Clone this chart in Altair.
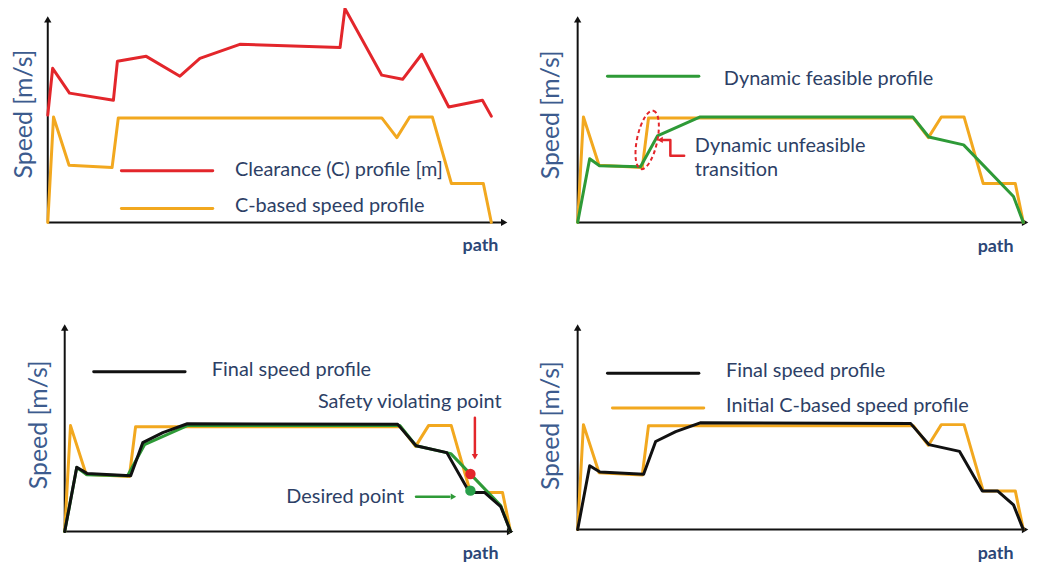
import altair as alt
import pandas as pd

# ---------------- data (path units: 0 = start, 100 = end of path; speed units 0..100) -------------
orange_x = [0, 1.3, 4.8, 14.5, 15.9, 75.3, 78.7, 81.6, 86.7, 91.0, 98.2, 100]
orange_y = [0, 51, 27.6, 26.5, 50.5, 50.5, 41, 51, 51, 18.8, 18.8, 0]

red_x = [0, 1.1, 4.9, 14.8, 15.7, 22.2, 29.8, 34.3, 43.3, 65.9, 67.0, 75.3, 80.0, 84.3, 90.4, 98.0, 100]
red_y = [51.9, 74.5, 62.5, 59.1, 77.9, 80.3, 70.7, 79.3, 86.1, 84.6, 103.4, 71.2, 69.2, 81.3, 55.8, 59.1, 51.4]

green_x = [0, 2.7, 4.9, 14.1, 17.9, 27.5, 75.2, 78.8, 86.6, 97.8, 100]
green_y = [0, 30.8, 27.4, 26.9, 41.8, 51, 51, 41.3, 37.5, 12.5, 0]

black_x = [0, 2.7, 5.0, 14.8, 17.5, 22.0, 27.5, 74.7, 78.8, 85.7, 90.8, 94.2, 97.8, 100]
black_y = [0, 31, 28, 26.9, 42.8, 47.6, 51.9, 51.6, 41.3, 38, 18.8, 18.8, 12, 0]

# annotation points (panel 3)
violating_point = (91.0, 27.7)
desired_point = (91.0, 19.7)

# unfeasible transition marker (panel 2)
ellipse_center = (15.6, 39.9)
bracket_x = [23.9, 20.8, 20.8, 18.8]
bracket_y = [32.2, 32.2, 39.9, 39.9]

ORANGE = "#F2A81F"
RED = "#E3262B"
GREEN = "#2E9A37"
BLACK = "#111111"
TXT = "#2D3F66"
AXT = "#3C5B8E"
FONT = "Lato"
LBL = 20


def sx(dom):
    return alt.X("x:Q", scale=alt.Scale(domain=dom, nice=False, zero=False), axis=None)


def sy():
    return alt.Y("y:Q", scale=alt.Scale(domain=[0, 100], nice=False, zero=False), axis=None)


def line(dom, xv, yv, color, sw=3.0):
    df = pd.DataFrame({"x": xv, "y": yv, "i": list(range(len(xv)))})
    return alt.Chart(df).mark_line(color=color, strokeWidth=sw, strokeJoin="round",
                                   strokeCap="round").encode(x=sx(dom), y=sy(), order="i:Q")


def texts(dom, xv, yv, labels, align="left", size=LBL, color=TXT, weight="normal", angle=0):
    df = pd.DataFrame({"x": xv, "y": yv, "t": labels})
    return alt.Chart(df).mark_text(align=align, baseline="middle", fontSize=size, font=FONT,
                                   color=color, fontWeight=weight, angle=angle).encode(
        x=sx(dom), y=sy(), text="t:N")


def pts(dom, xv, yv, shape, size, color, angle=0, filled=True, dash=None, sw=2):
    df = pd.DataFrame({"x": xv, "y": yv})
    kw = dict(shape=shape, size=size, opacity=1, angle=angle, filled=filled, strokeWidth=sw)
    if filled:
        kw["fill"] = color
        kw["strokeWidth"] = 0
    else:
        kw["stroke"] = color
        kw["fill"] = "transparent"
    if dash:
        kw["strokeDash"] = dash
    return alt.Chart(df).mark_point(**kw).encode(x=sx(dom), y=sy())


def axes(dom, speed_x, speed_y, path_x, path_y):
    xmax = dom[1]
    df_y = pd.DataFrame({"x": [0], "y": [0], "y2": [98]})
    df_x = pd.DataFrame({"x": [0], "x2": [xmax - 1.5], "y": [0]})
    ya = alt.Chart(df_y).mark_rule(color=BLACK, strokeWidth=2).encode(
        x=sx(dom), y=sy(), y2="y2:Q")
    xa = alt.Chart(df_x).mark_rule(color=BLACK, strokeWidth=2).encode(
        x=sx(dom), x2="x2:Q", y=sy())
    up = pts(dom, [0], [98.2], "triangle-up", 55, BLACK)
    right = pts(dom, [xmax - 1.1], [0], "triangle-right", 55, BLACK)
    title = texts(dom, [speed_x], [speed_y], ["Speed [m/s]"], align="center", size=25,
                  color=AXT, angle=270)
    pth = texts(dom, [path_x], [path_y], ["path"], align="right", size=18, color="#2B4677",
                weight="bold")
    return [ya, xa, up, right, title, pth]


# ---------------- panel 1 ----------------
d1 = [0, 104]
p1 = alt.layer(
    *axes(d1, -5.3, 52.4, 101.6, -11.5),
    line(d1, orange_x, orange_y, ORANGE),
    line(d1, red_x, red_y, RED),
    line(d1, [16.6, 37.2], [25, 25], RED),
    line(d1, [16.6, 37.2], [6.7, 6.7], ORANGE),
    texts(d1, [42.2, 42.2], [25.5, 7.7], ["Clearance (C) profile [m]", "C-based speed profile"]),
).properties(width=464, height=208)

# ---------------- panel 2 ----------------
d2 = [0, 101.5]
p2 = alt.layer(
    *axes(d2, -6.0, 52.0, 97.8, -12),
    line(d2, orange_x, orange_y, ORANGE),
    line(d2, green_x, green_y, GREEN),
    line(d2, [6.7, 27.2], [70.7, 70.7], GREEN),
    texts(d2, [32.8], [69.2], ["Dynamic feasible profile"]),
    texts(d2, [26.3, 26.3], [37, 25.5], ["Dynamic unfeasible", "transition"]),
    pts(d2, [ellipse_center[0]], [ellipse_center[1]], "M0,-1 A0.34,1 0 1,1 0,1 A0.34,1 0 1,1 0,-1 Z",
        3600, RED, angle=12, filled=False, dash=[4, 3], sw=2),
    line(d2, bracket_x, bracket_y, RED, sw=2.5),
    pts(d2, [18.5], [39.9], "triangle-left", 40, RED),
).properties(width=455, height=208)

# ---------------- panel 3 ----------------
d3 = [-3.8, 101]
p3 = alt.layer(
    *axes(d3, -5.8, 51.4, 97.3, -11),
    line(d3, orange_x, orange_y, ORANGE),
    line(d3, green_x, green_y, GREEN),
    line(d3, black_x, black_y, BLACK),
    line(d3, [6.5, 27.0], [76.9, 76.9], BLACK),
    texts(d3, [33.0], [77.9], ["Final speed profile"]),
    texts(d3, [98.0], [62.5], ["Safety violating point"], align="right"),
    texts(d3, [76.1], [16.8], ["Desired point"], align="right"),
    line(d3, [92.0, 92.0], [54.8, 37.5], RED, sw=2.5),
    pts(d3, [92.0], [36.0], "triangle-down", 40, RED),
    line(d3, [78.8, 86.3], [16.8, 16.8], GREEN, sw=2.5),
    pts(d3, [87.2], [16.8], "triangle-right", 40, GREEN),
    pts(d3, [violating_point[0]], [violating_point[1]], "circle", 110, RED),
    pts(d3, [desired_point[0]], [desired_point[1]], "circle", 110, "#29A04A"),
).properties(width=470, height=209)

# ---------------- panel 4 ----------------
d4 = [0, 101.5]
p4 = alt.layer(
    *axes(d4, -6.0, 50.5, 97.8, -12),
    line(d4, orange_x, orange_y, ORANGE),
    line(d4, black_x, black_y, BLACK),
    line(d4, [6.7, 27.2], [76.0, 76.0], BLACK),
    line(d4, [7.8, 28.3], [59.1, 59.1], ORANGE),
    texts(d4, [33.3, 33.3], [76.9, 60.1], ["Final speed profile", "Initial C-based speed profile"]),
).properties(width=455, height=207)

row1 = alt.hconcat(p1, p2, spacing=69, bounds="flush")
row2 = alt.hconcat(p3, p4, spacing=63, bounds="flush")
chart = alt.vconcat(row1, row2, spacing=310, bounds="flush").properties(
    padding={"left": 4, "top": -3, "right": 0, "bottom": 5},
    background="white",
).configure_view(stroke=None)

chart.save("out.html", embed_options={"renderer": "svg", "actions": False})
